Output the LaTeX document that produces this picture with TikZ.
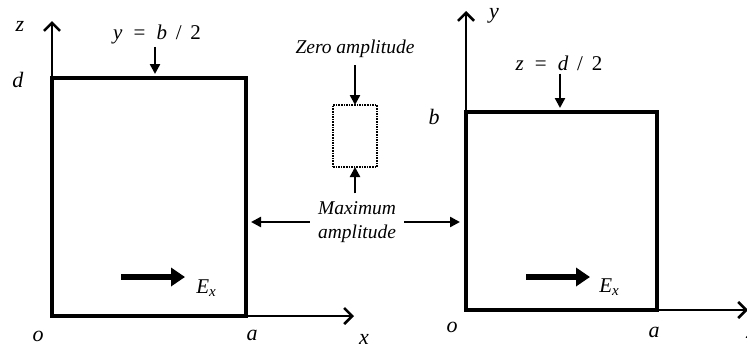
\documentclass[tikz,border=0pt]{standalone}
\usepackage{fontspec}
\setmainfont{Liberation Serif}
\usetikzlibrary{positioning,arrows.meta,calc}
\tikzset{
  wall/.style  ={draw, line width=4.6pt, inner sep=0pt, outer sep=0pt},
  probe/.style ={draw, line width=2pt, dash pattern=on 1.6pt off 1pt,
                 inner sep=0pt, outer sep=0pt,
                 minimum width=44pt, minimum height=62pt},
  axis/.style  ={line width=2.2pt, -{Straight Barb[length=8pt,width=16pt,line width=2.6pt]}},
  ptr/.style   ={line width=2.4pt, -{Triangle[length=10pt,width=10pt]}},
  fld/.style   ={line width=6pt, -{Triangle[length=14pt,width=18pt]}},
  lbl/.style   ={font=\fontsize{22}{24}\selectfont\itshape, inner sep=1pt},
  cut/.style   ={font=\fontsize{21}{23}\selectfont, inner sep=1pt},
  txt/.style   ={font=\fontsize{19.5}{24}\selectfont\itshape, align=center},
}
\newcommand{\Ex}{\textit{E}\raisebox{-0.3ex}{\fontsize{15}{15}\selectfont\textit{x}}}

\begin{document}
\begin{tikzpicture}[x=1pt,y=-1pt]
  \useasboundingbox (0,0) rectangle (747,351);

  % ---- left cut: x-z plane -------------------------------------------
  \node[wall, minimum width=194pt, minimum height=238pt] (boxL) at (149,197) {};
  \coordinate (zTip)  at (52,21);
  \coordinate (xTipL) at (354,316);
  \draw[axis] (boxL.south west) -- (zTip);
  \draw[axis] (boxL.south east) -- (xTipL);

  \node[lbl] (zL) at (20,26)  {z};
  \node[lbl] (dL) at (18,80)  {d};
  \node[lbl] (oL) at (38,336) {o};
  \node[lbl] (aL) at (252,335) {a};
  \node[lbl] (xL) at (364,339) {x};

  \node[cut] (cutL) at (157,34) {\textit{y}\; =\; \textit{b}\, /\, 2};
  \coordinate (topL) at (155,76);
  \draw[ptr, shorten >=2pt] ($(cutL.south -| topL)+(0,2)$) -- (topL);
  \coordinate (exTailL) at (121,277);
  \coordinate (exHeadL) at (185,277);
  \draw[fld] (exTailL) -- (exHeadL);
  \node[lbl, font=\fontsize{21}{23}\selectfont] (exL) at (206,288) {\Ex};

  % ---- right cut: x-y plane ------------------------------------------
  \node[wall, minimum width=191pt, minimum height=198pt] (boxR) at (561.5,211) {};
  \coordinate (yTip)  at (466,11);
  \coordinate (xTipR) at (748,310);
  \draw[axis] (boxR.south west) -- (yTip);
  \draw[axis] (boxR.south east) -- (xTipR);

  \node[lbl] (yR) at (494,16)  {y};
  \node[lbl] (bR) at (434,117) {b};
  \node[lbl] (oR) at (452,327) {o};
  \node[lbl] (aR) at (654,332) {a};
  \node[lbl] (xR) at (751,333) {x};

  \node[cut] (cutR) at (559,63) {\textit{z}\; =\; \textit{d}\, /\, 2};
  \coordinate (topR) at (560,110);
  \draw[ptr, shorten >=2pt] ($(cutR.south -| topR)+(0,2)$) -- (topR);
  \coordinate (exTailR) at (526,277);
  \coordinate (exHeadR) at (590,277);
  \draw[fld] (exTailR) -- (exHeadR);
  \node[lbl, font=\fontsize{21}{23}\selectfont] (exR) at (609,287) {\Ex};

  % ---- amplitude legend ----------------------------------------------
  \node[txt] (zeroTxt) at (355,49) {Zero amplitude};
  \node[probe] (dot) at (355,136) {};
  \node[txt, inner sep=8pt] (maxTxt) at (357,222) {Maximum\\amplitude};

  \coordinate (sideL) at ($(boxL.east |- maxTxt.west)+(5,0)$);
  \coordinate (sideR) at ($(boxR.west |- maxTxt.east)+(-6,0)$);
  \draw[ptr] ($(zeroTxt.south -| dot.north)+(0,4)$) -- (dot.north);
  \draw[ptr] (maxTxt.north -| dot.south) -- (dot.south);
  \draw[ptr] (maxTxt.west) -- (sideL);
  \draw[ptr] (maxTxt.east) -- (sideR);
\end{tikzpicture}
\end{document}
